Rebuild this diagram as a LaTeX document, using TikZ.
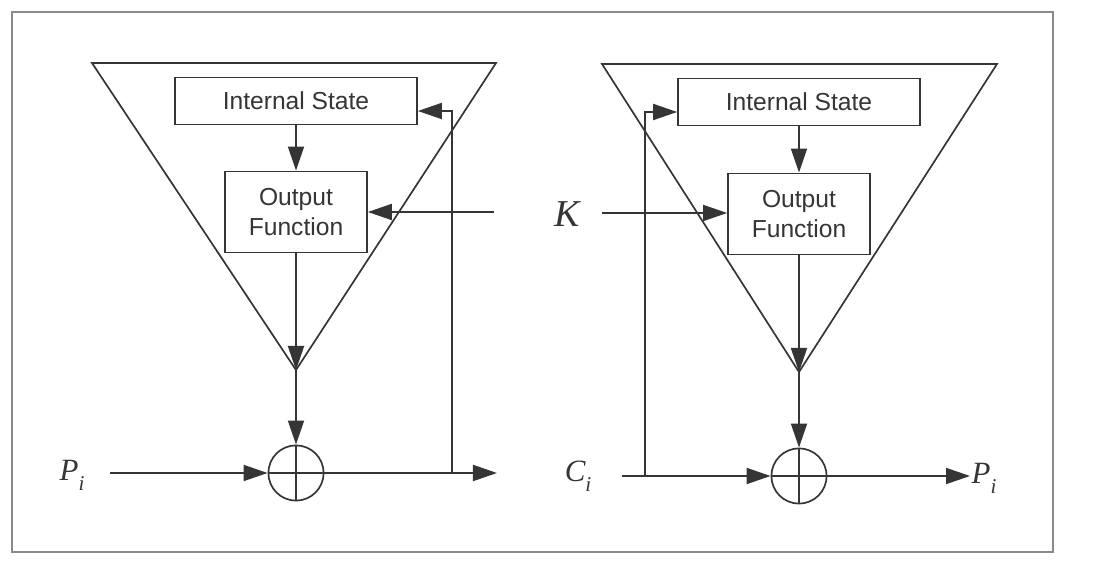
\documentclass[tikz,border=0pt]{standalone}
\usepackage{fontspec}
\setmainfont{Liberation Sans}
\newfontfamily\labelfont{Liberation Serif}
\usetikzlibrary{arrows.meta,calc}

\definecolor{ink}{HTML}{353535}
\definecolor{framegray}{HTML}{8A8A8A}

\newcommand{\sub}[1]{\raisebox{-0.32em}{\fontsize{15}{15}\selectfont\itshape #1}}

\tikzset{
	block/.style = {draw=ink, line width=1.2pt, text=ink, align=center, inner sep=0pt},
	statebox/.style = {block, minimum width=6.05cm, minimum height=1.18cm},
	funcbox/.style = {block, minimum width=3.55cm, minimum height=2.03cm},
	xor/.style = {draw=ink, line width=1.2pt, circle, minimum size=1.38cm, inner sep=0pt,
		path picture={\draw[ink, line width=1.2pt]
			(path picture bounding box.north) -- (path picture bounding box.south)
			(path picture bounding box.west) -- (path picture bounding box.east);}},
	line/.style = {draw=ink, line width=1.3pt, -{Triangle[length=6mm,width=4mm]}},
	wedge/.style = {draw=ink, line width=1.2pt, line join=miter},
	lbl/.style = {text=ink, font=\labelfont\fontsize{22}{26}\selectfont\itshape}
}

\begin{document}
\begin{tikzpicture}[x=0.025cm, y=-0.025cm, font=\fontsize{17.5}{21}\selectfont]

	\fill[white] (0,0) rectangle (1106,563);
	\useasboundingbox (0,0) rectangle (1106,563);
	\draw[framegray, line width=0.9pt] (12,12) rectangle (1053,552);

	% encryption
	\coordinate (apexL) at (296,370);
	\draw[wedge] (92,63) -- (496,63) -- (apexL) -- cycle;
	\node[statebox] (stateL) at (296,101) {Internal State};
	\node[funcbox] (funcL) at (296,212) {Output\\Function};
	\node[xor] (xorL) at (296,473) {};
	\node[lbl] (pinL) at (72,475) {P\sub{i}};
	\coordinate (startL) at (110,473);
	\coordinate (outL) at (497,473);
	\coordinate (tapL) at (452,473);

	% decryption
	\coordinate (apexR) at (799,372);
	\draw[wedge] (602,64) -- (997,64) -- (apexR) -- cycle;
	\node[statebox] (stateR) at (799,102) {Internal State};
	\node[funcbox] (funcR) at (799,214) {Output\\Function};
	\node[xor] (xorR) at (799,476) {};
	\node[lbl, anchor=west, inner sep=1pt] (poutR) at (970,478) {P\sub{i}};
	\coordinate (startR) at (622,476);
	\coordinate (tapR) at (645,476);

	% shared labels
	\node[lbl, font=\labelfont\fontsize{27}{30}\selectfont\itshape] (key) at (567,214) {K};
	\node[lbl] (cout) at (578,476) {C\sub{i}};
	\coordinate (kL) at (494,212);
	\coordinate (kR) at (602,213);

	\draw[line] (stateL) -- (funcL);
	\draw[line] (funcL) -- (apexL);
	\draw[line] (apexL) -- (xorL);
	\draw[line] (startL) -- (xorL);
	\draw[line] (xorL) -- (outL);
	\draw[line] (tapL) |- ($(stateL.east)+(0,10)$);
	\draw[line] (kL) -- (funcL.east |- kL);

	\draw[line] (stateR) -- (funcR);
	\draw[line] (funcR) -- (apexR);
	\draw[line] (apexR) -- (xorR);
	\draw[line] (startR) -- (xorR);
	\draw[line] (xorR) -- (poutR.west |- xorR);
	\draw[line] (tapR) |- ($(stateR.west)+(0,10)$);
	\draw[line] (kR) -- (funcR.west |- kR);

\end{tikzpicture}
\end{document}
